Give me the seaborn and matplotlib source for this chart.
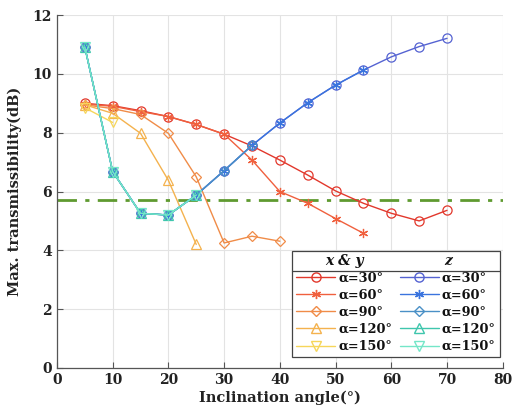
import matplotlib
matplotlib.use("Agg")
import matplotlib.pyplot as plt
from matplotlib.lines import Line2D
import seaborn as sns
import numpy as np

# ---------------- data ----------------
x_xy30 = [5, 10, 15, 20, 25, 30, 35, 40, 45, 50, 55, 60, 65, 70]
y_xy30 = [9.0, 8.92, 8.75, 8.55, 8.28, 7.95, 7.55, 7.07, 6.56, 6.02, 5.6, 5.26, 5.0, 5.36]
x_xy60 = [5, 10, 15, 20, 25, 30, 35, 40, 45, 50, 55]
y_xy60 = [8.97, 8.9, 8.72, 8.55, 8.28, 7.95, 7.07, 6.0, 5.6, 5.08, 4.58]
x_xy90 = [5, 10, 15, 20, 25, 30, 35, 40]
y_xy90 = [8.95, 8.82, 8.62, 7.98, 6.5, 4.25, 4.48, 4.31]
x_xy120 = [5, 10, 15, 20, 25]
y_xy120 = [8.95, 8.66, 7.98, 6.38, 4.2]
x_xy150 = [5, 10]
y_xy150 = [8.85, 8.35]

x_z = [5, 10, 15, 20, 25, 30, 35, 40, 45, 50, 55, 60, 65, 70]
y_z = [10.92, 6.68, 5.26, 5.2, 5.88, 6.71, 7.57, 8.33, 9.02, 9.62, 10.13, 10.58, 10.93, 11.21]
n_z30, n_z60, n_z90, n_z120, n_z150 = 14, 11, 7, 5, 5

threshold = 5.72
alpha_labels = ["α=30°", "α=60°", "α=90°", "α=120°", "α=150°"]
header_labels = ["x & y", "z"]
x_ticks = [0, 10, 20, 30, 40, 50, 60, 70, 80]
y_ticks = [0, 2, 4, 6, 8, 10, 12]

# ---------------- style ----------------
sns.set_style("white")
plt.rcParams["font.family"] = ["DejaVu Serif"]
plt.rcParams["font.weight"] = "bold"

fig = plt.figure(figsize=(5.27, 4.2), dpi=100)
ax = fig.add_axes([0.108, 0.124, 0.846, 0.840])

asterisk = (6, 2, 0)
xy_styles = [
    ("#e2382c", "o"),
    ("#f0603e", asterisk),
    ("#f08c48", "D"),
    ("#f4b24e", "^"),
    ("#f6d65a", "v"),
]
z_styles = [
    ("#5563d2", "o"),
    ("#3a74de", asterisk),
    ("#4a90c6", "D"),
    ("#3fc6ad", "^"),
    ("#74e6c8", "v"),
]

xy_data = [(x_xy30, y_xy30), (x_xy60, y_xy60), (x_xy90, y_xy90),
           (x_xy120, y_xy120), (x_xy150, y_xy150)]
z_counts = [n_z30, n_z60, n_z90, n_z120, n_z150]

def msize(m):
    return 5.2 if m == "D" else 6.6

handles_xy, handles_z = [], []
for (xs, ys), (c, m) in zip(xy_data, xy_styles):
    sns.lineplot(x=xs, y=ys, ax=ax, color=c, marker=m, markersize=msize(m),
                 markerfacecolor="none", markeredgecolor=c, markeredgewidth=0.9,
                 linewidth=1.0, zorder=3)
    handles_xy.append(Line2D([], [], color=c, marker=m, markersize=msize(m),
                             markerfacecolor="none", markeredgecolor=c, linewidth=1.0))

for n, (c, m) in zip(z_counts, z_styles):
    sns.lineplot(x=x_z[:n], y=y_z[:n], ax=ax, color=c, marker=m, markersize=msize(m),
                 markerfacecolor="none", markeredgecolor=c, markeredgewidth=0.9,
                 linewidth=1.0, zorder=3)
    handles_z.append(Line2D([], [], color=c, marker=m, markersize=msize(m),
                            markerfacecolor="none", markeredgecolor=c, linewidth=1.0))

ax.axhline(threshold, color="#5f9a30", linestyle=(0, (7, 3, 1.5, 3)), linewidth=2.0, zorder=2)

ax.set_xlim(0, 80)
ax.set_ylim(0, 12)
ax.set_xticks(x_ticks)
ax.set_yticks(y_ticks)
ax.grid(True, color="#e3e3e3", linewidth=0.8)
ax.set_axisbelow(True)
for s in ["top", "right"]:
    ax.spines[s].set_visible(False)
for s in ["left", "bottom"]:
    ax.spines[s].set_color("#555555")
    ax.spines[s].set_linewidth(0.9)
ax.tick_params(direction="in", length=4, width=0.8, color="#555555",
               labelsize=10, labelcolor="#222222", left=True, bottom=True)
for lab in ax.get_xticklabels() + ax.get_yticklabels():
    lab.set_fontweight("bold")
ax.set_xlabel("Inclination angle(°)", fontsize=10.5, fontweight="bold", color="#222222", labelpad=3)
ax.set_ylabel("Max. transmissibility(dB)", fontsize=10.5, fontweight="bold", color="#222222", labelpad=8)

blank = Line2D([], [], linestyle="none", marker="none")
handles = [blank] + handles_xy + [blank] + handles_z
labels = [" "] + alpha_labels + [" "] + alpha_labels
leg = ax.legend(handles, labels, ncol=2, loc="lower right",
                bbox_to_anchor=(0.993, 0.031), handlelength=3.0,
                handletextpad=0.25, columnspacing=0.6, labelspacing=0.32,
                borderpad=0.3, borderaxespad=0.0, frameon=True, fancybox=False,
                edgecolor="#444444", framealpha=1.0,
                prop={"family": "DejaVu Serif", "weight": "bold", "size": 9.3})
leg.get_frame().set_linewidth(0.9)
for t in leg.get_texts():
    t.set_color("#111111")

# headers and separator
fig.canvas.draw()
r = fig.canvas.get_renderer()
inv = fig.transFigure.inverted()
lb = leg.get_window_extent(r)
texts = leg.get_texts()
t1 = texts[1].get_window_extent(r)
t2 = texts[2].get_window_extent(r)
row_h = t1.y0 - t2.y0
c1_left = lb.x0 + 4
c1_right = max(texts[i].get_window_extent(r).x1 for i in range(1, 6))
c2_right = max(texts[i].get_window_extent(r).x1 for i in range(7, 12))
c2_left = c1_right + 8
hy = (t1.y0 + t1.y1) / 2 + row_h
for (a, b), txt in zip([(c1_left, c1_right), (c2_left, c2_right)], header_labels):
    px, py = inv.transform(((a + b) / 2, hy))
    fig.text(px, py, txt, ha="center", va="center", fontsize=10,
             fontweight="bold", fontstyle="italic", family="DejaVu Serif", color="#111111")
sep_y = hy - row_h / 2 - 1
p0 = inv.transform((lb.x0, sep_y))
p1 = inv.transform((lb.x1, sep_y))
fig.add_artist(Line2D([p0[0], p1[0]], [p0[1], p1[1]], transform=fig.transFigure,
                      color="#444444", linewidth=0.9))

fig.savefig("out.png", dpi=100)
